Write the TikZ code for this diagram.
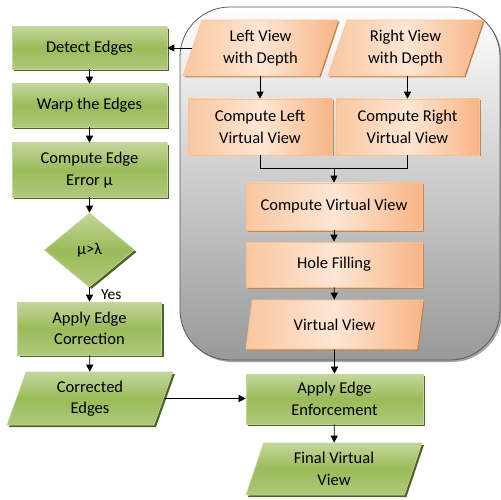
\documentclass[tikz,border=0pt]{standalone}
\usepackage{fontspec}
\setmainfont{Carlito}
\usetikzlibrary{shapes.geometric,shadows,arrows.meta}

\definecolor{greentop}{HTML}{C3D69B}
\definecolor{greenmid}{HTML}{9BBB59}
\definecolor{greenbot}{HTML}{AFC97A}
\definecolor{greendark}{HTML}{4F6228}
\definecolor{orangeleft}{HTML}{F9C7A0}
\definecolor{orangemid}{HTML}{FDE6D5}
\definecolor{orangeright}{HTML}{F8B585}
\definecolor{orangeline}{HTML}{FAC090}
\definecolor{orangedark}{HTML}{C0864F}
\definecolor{framegray}{HTML}{595959}

\begin{document}
\begin{tikzpicture}[x=1pt,y=-1pt,
  font=\fontsize{16.5}{21.5}\selectfont,
  greenbox/.style={draw=greentop,line width=0.6pt,top color=greentop,bottom color=greenbot,middle color=greenmid,
    drop shadow={shadow xshift=2pt,shadow yshift=-2pt,fill=greendark,opacity=1},
    align=center,inner sep=0pt,text=black},
  orangebox/.style={draw=orangeline,line width=0.6pt,left color=orangeleft,right color=orangeright,middle color=orangemid,
    drop shadow={shadow xshift=1.5pt,shadow yshift=-1.5pt,fill=orangedark,opacity=1},
    align=center,inner sep=0pt,text=black},
  slanted/.style={trapezium,trapezium left angle=62,trapezium right angle=118,trapezium stretches body},
  flow/.style={-{Triangle[length=7pt,width=7pt]},line width=0.8pt,black},
  line/.style={line width=0.8pt,black}]

  \useasboundingbox (0,0) rectangle (501,500);

  %frame around the view synthesis
  \node[draw=framegray,line width=0.8pt,rounded corners=50pt,top color=white,bottom color=black!40,
    drop shadow={shadow xshift=2pt,shadow yshift=-2pt,fill=black!35,opacity=1},
    minimum width=320pt,minimum height=353pt] (frame) at (340,183.5) {};

  %view synthesis
  \node[orangebox,slanted,minimum width=155pt,minimum height=56pt] (leftin) at (260.5,48) {Left View\\with Depth};
  \node[orangebox,slanted,minimum width=155pt,minimum height=56pt] (rightin) at (405.5,48) {Right View\\with Depth};
  \node[orangebox,minimum width=144pt,minimum height=56pt] (cleft) at (260,127) {Compute Left\\Virtual View};
  \node[orangebox,minimum width=143pt,minimum height=56pt] (cright) at (407.5,127) {Compute Right\\Virtual View};
  \node[orangebox,minimum width=176pt,minimum height=47pt] (cvirt) at (334,206.5) {Compute Virtual View};
  \node[orangebox,minimum width=176pt,minimum height=45pt] (holes) at (334,264.5) {Hole Filling};
  \node[orangebox,slanted,minimum width=177pt,minimum height=49pt] (virt) at (334.5,324.5) {Virtual View};

  %edge correction
  \node[greenbox,minimum width=155pt,minimum height=42pt] (detect) at (89.5,48) {Detect Edges};
  \node[greenbox,minimum width=155pt,minimum height=43pt] (warp) at (89.5,105.5) {Warp the Edges};
  \node[greenbox,minimum width=155pt,minimum height=54pt] (err) at (89.5,170) {Compute Edge\\Error μ};
  \node[greenbox,diamond,minimum width=90pt,minimum height=74pt] (check) at (89.5,250) {μ>λ};
  \node[greenbox,minimum width=144pt,minimum height=53pt] (corr) at (89.5,328.5) {Apply Edge\\Correction};
  \node[greenbox,slanted,minimum width=166pt,minimum height=53pt] (corrout) at (90,398.5) {Corrected\\Edges};

  %output
  \node[greenbox,minimum width=177pt,minimum height=50pt] (enforce) at (334.5,399) {Apply Edge\\Enforcement};
  \node[greenbox,slanted,minimum width=176pt,minimum height=52pt] (final) at (334,469) {Final Virtual\\View};

  %arrows
  \draw[flow] (leftin.west) -- (leftin.west -| detect.east);
  \draw[flow] (detect) -- (warp);
  \draw[flow] (warp) -- (err);
  \draw[flow] (err) -- (check);
  \draw[flow] (check) -- node[right,xshift=8pt,font=\fontsize{15.5}{18}\selectfont]{Yes} (corr);
  \draw[flow] (corr) -- (corrout);
  \draw[flow] (corrout.east) -- (corrout.east -| enforce.west);

  \draw[flow] (leftin.south -| cleft.north) -- (cleft.north);
  \draw[flow] (rightin.south -| cright.north) -- (cright.north);
  \coordinate (join) at (334,168);
  \draw[line] (cleft.south) |- (join);
  \draw[line] (cright.south) |- (join);
  \draw[flow] (join) -- (cvirt.north);
  \draw[flow] (cvirt) -- (holes);
  \draw[flow] (holes) -- (virt);
  \draw[flow] (virt) -- (enforce);
  \draw[flow] (enforce) -- (final);

\end{tikzpicture}
\end{document}
